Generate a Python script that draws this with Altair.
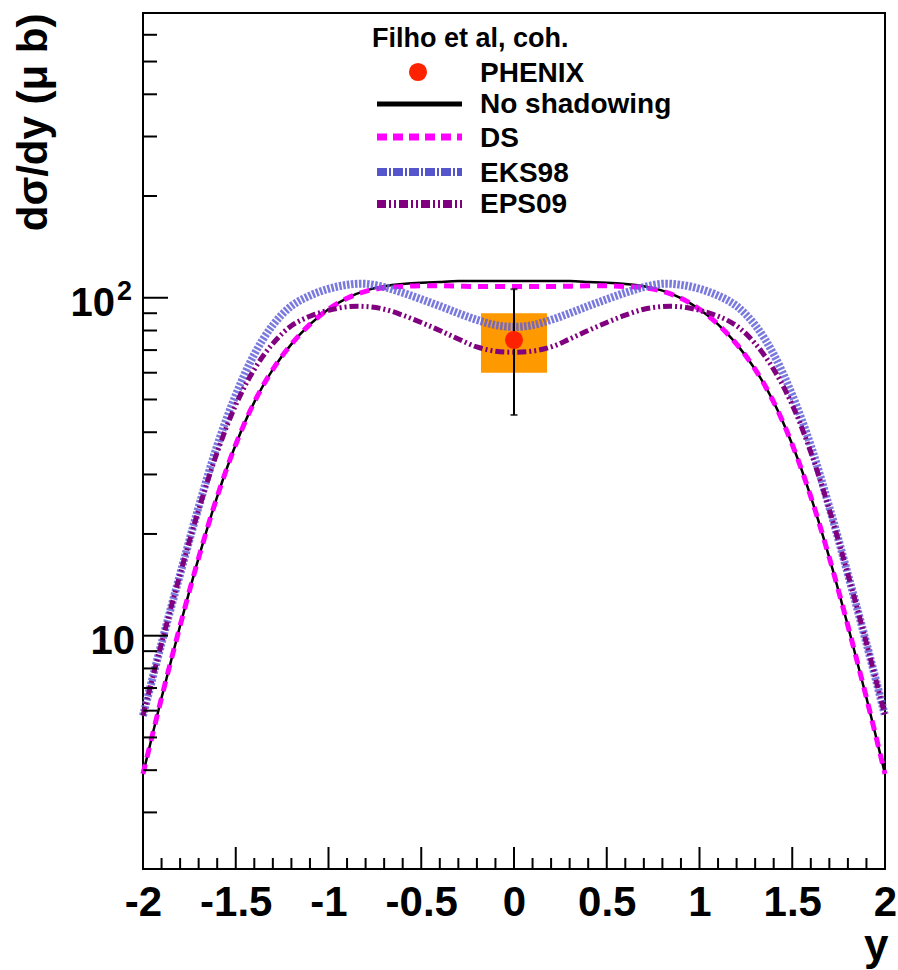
import altair as alt
import pandas as pd

# ---------------- data ----------------
x_vals = [-2.0, -1.9, -1.8, -1.7, -1.6, -1.5, -1.4, -1.3, -1.2, -1.1, -1.0,
          -0.9, -0.8, -0.7, -0.6, -0.5, -0.4, -0.3, -0.2, -0.1, 0.0,
          0.1, 0.2, 0.3, 0.4, 0.5, 0.6, 0.7, 0.8, 0.9, 1.0,
          1.1, 1.2, 1.3, 1.4, 1.5, 1.6, 1.7, 1.8, 1.9, 2.0]

no_shadowing = [3.9, 6.55, 10.7, 17.0, 25.8, 36.8, 49.1, 61.4, 72.9, 83.4, 92.5,
                99.8, 105.0, 108.2, 109.9, 110.7, 111.4, 112.0, 112.0, 112.0, 112.0,
                112.0, 112.0, 112.0, 111.4, 110.7, 109.9, 108.2, 105.0, 99.8, 92.5,
                83.4, 72.9, 61.4, 49.1, 36.8, 25.8, 17.0, 10.7, 6.55, 3.9]

ds = [3.9, 6.55, 10.7, 17.0, 25.8, 36.8, 49.1, 61.4, 72.9, 83.4, 92.5,
      99.6, 104.5, 107.0, 108.0, 108.5, 108.5, 108.2, 108.0, 108.0, 108.0,
      108.0, 108.0, 108.2, 108.5, 108.5, 108.0, 107.0, 104.5, 99.6, 92.5,
      83.4, 72.9, 61.4, 49.1, 36.8, 25.8, 17.0, 10.7, 6.55, 3.9]

eks98 = [5.8, 9.5, 15.2, 24.0, 36.5, 51.5, 68.0, 83.0, 94.5, 101.5, 106.3,
         109.2, 110.0, 107.5, 103.5, 99.0, 94.5, 90.0, 86.0, 83.0, 82.0,
         83.0, 86.0, 90.0, 94.5, 99.0, 103.5, 107.5, 110.0, 109.2, 106.3,
         101.5, 94.5, 83.0, 68.0, 51.5, 36.5, 24.0, 15.2, 9.5, 5.8]

eps09 = [5.8, 9.5, 15.2, 23.6, 34.9, 48.2, 61.4, 73.2, 82.6, 88.2, 91.8,
         94.0, 94.2, 92.5, 88.8, 84.5, 80.0, 75.5, 71.5, 69.5, 69.0,
         69.5, 71.5, 75.5, 80.0, 84.5, 88.8, 92.5, 94.2, 94.0, 91.8,
         88.2, 82.6, 73.2, 61.4, 48.2, 34.9, 23.6, 15.2, 9.5, 5.8]

phenix_x = [0.0]
phenix_y = [75.0]
phenix_stat_lo = [45.0]
phenix_stat_hi = [106.0]
phenix_sys_x_lo = [-0.178]
phenix_sys_x_hi = [0.178]
phenix_sys_lo = [60.0]
phenix_sys_hi = [90.0]

x_major = [-2.0, -1.5, -1.0, -0.5, 0.0, 0.5, 1.0, 1.5, 2.0]
x_minor = [-1.9, -1.8, -1.7, -1.6, -1.4, -1.3, -1.2, -1.1, -0.9, -0.8, -0.7, -0.6,
           -0.4, -0.3, -0.2, -0.1, 0.1, 0.2, 0.3, 0.4, 0.6, 0.7, 0.8, 0.9,
           1.1, 1.2, 1.3, 1.4, 1.6, 1.7, 1.8, 1.9]
y_major = [10, 100]
y_minor = [3, 4, 5, 6, 7, 8, 9, 20, 30, 40, 50, 60, 70, 80, 90, 200, 300, 400, 500, 600]

legend_title = "Filho et al, coh."
legend_labels = ["PHENIX", "No shadowing", "DS", "EKS98", "EPS09"]

# ---------------- layout ----------------
W, H = 742, 856
FONT = "Liberation Sans"
INTERP = "catmull-rom"

curves = pd.DataFrame({"x": x_vals, "ns": no_shadowing, "ds": ds,
                       "eks": eks98, "eps": eps09})
pt = pd.DataFrame({"x": phenix_x, "y": phenix_y, "lo": phenix_stat_lo,
                   "hi": phenix_stat_hi, "bx0": phenix_sys_x_lo,
                   "bx1": phenix_sys_x_hi, "by0": phenix_sys_lo,
                   "by1": phenix_sys_hi})

xs = alt.Scale(domain=[-2, 2], nice=False, zero=False)
ys = alt.Scale(type="log", domain=[2.04, 696], nice=False)

xaxis = alt.Axis(values=x_major, labelExpr="'' + datum.value", title="y",
                 grid=False, domain=False, ticks=False, tickSize=0,
                 labelFont=FONT, labelFontSize=42, labelFontWeight="bold",
                 labelColor="black", labelPadding=46, labelBaseline="alphabetic",
                 labelFlush=False, labelOverlap=False,
                 titleFont=FONT, titleFontSize=44, titleFontWeight="bold",
                 titleColor="black", titleX=745, titleY=90, titleAlign="right",
                 titleBaseline="alphabetic")

yaxis = alt.Axis(values=y_major, labels=False,
                 title="d\u03c3/dy (\u03bc b)", grid=False, domain=False,
                 ticks=False, tickSize=0,
                 titleFont=FONT, titleFontSize=42, titleFontWeight="bold",
                 titleColor="black", titleAngle=-90, titleX=-97, titleY=0,
                 titleAlign="right", titleBaseline="alphabetic")


def X(f):
    return alt.X(f, type="quantitative", scale=xs, axis=xaxis)


def Y(f):
    return alt.Y(f, type="quantitative", scale=ys, axis=yaxis)


base = alt.Chart(curves)

box = alt.Chart(pt).mark_rect(color="#ff9900").encode(
    x=X("bx0"), x2="bx1", y=Y("by0"), y2="by1")

line_ns = base.mark_line(color="black", strokeWidth=2.5,
                         interpolate=INTERP).encode(x=X("x"), y=Y("ns"))
line_ds = base.mark_line(color="#ff00ff", strokeWidth=5, strokeDash=[10, 7],
                         interpolate=INTERP).encode(x=X("x"), y=Y("ds"))
line_eks = base.mark_line(color="#6262d8", strokeWidth=8, strokeDash=[2.5, 1.5],
                          opacity=0.85, interpolate=INTERP).encode(
    x=X("x"), y=Y("eks"))
line_eps = base.mark_line(color="#800080", strokeWidth=5,
                          strokeDash=[9, 3, 2, 3, 2, 3],
                          interpolate=INTERP).encode(x=X("x"), y=Y("eps"))

err = alt.Chart(pt).mark_rule(color="black", strokeWidth=2).encode(
    x=X("x"), y=Y("lo"), y2="hi")
cap_lo = alt.Chart(pt).mark_tick(color="black", orient="horizontal", size=7,
                                 thickness=2).encode(x=X("x"), y=Y("lo"))
cap_hi = alt.Chart(pt).mark_tick(color="black", orient="horizontal", size=7,
                                 thickness=2).encode(x=X("x"), y=Y("hi"))
dot = alt.Chart(pt).mark_point(filled=True, shape="circle", size=330,
                               color="#ff2200", opacity=1).encode(
    x=X("x"), y=Y("y"))

# inward ticks (ROOT style)
xmaj = alt.Chart(pd.DataFrame({"v": x_major})).mark_rule(
    color="black", strokeWidth=2).encode(x=X("v"), y=alt.value(H), y2=alt.value(H - 22))
xmin = alt.Chart(pd.DataFrame({"v": x_minor})).mark_rule(
    color="black", strokeWidth=2).encode(x=X("v"), y=alt.value(H), y2=alt.value(H - 11))
ymaj = alt.Chart(pd.DataFrame({"v": y_major})).mark_rule(
    color="black", strokeWidth=2).encode(y=Y("v"), x=alt.value(0), x2=alt.value(25))
ymin = alt.Chart(pd.DataFrame({"v": y_minor})).mark_rule(
    color="black", strokeWidth=2).encode(y=Y("v"), x=alt.value(0), x2=alt.value(14))

# y tick labels "10" and "10^2" (superscript as separate text)
def ylab(v, text, px, size, dy, align):
    return alt.Chart(pd.DataFrame({"v": [v], "t": [text]})).mark_text(
        font=FONT, fontSize=size, fontWeight="bold", color="black",
        align=align, baseline="alphabetic", dy=dy).encode(
        y=Y("v"), x=alt.value(px), text="t:N")


ylabels = [ylab(10, "10", -8, 40, 18, "right"),
           ylab(100, "10", -28, 40, 18, "right"),
           ylab(100, "2", -26, 27, 2, "left")]

# custom legend
def txt(s, px, py, size):
    return alt.Chart(pd.DataFrame({"t": [s]})).mark_text(
        font=FONT, fontSize=size, fontWeight="bold", color="black",
        align="left", baseline="alphabetic").encode(
        x=alt.value(px), y=alt.value(py), text="t:N")


def sym(py, color, width, dash=None):
    kw = dict(color=color, strokeWidth=width)
    if dash:
        kw["strokeDash"] = dash
    return alt.Chart(pd.DataFrame({"a": [0]})).mark_rule(**kw).encode(
        x=alt.value(234), x2=alt.value(319), y=alt.value(py))


leg = [txt(legend_title, 229, 34, 27)]
label_y = [69, 100, 134, 169, 200]
for lab, py in zip(legend_labels, label_y):
    leg.append(txt(lab, 337, py, 28))
leg.append(alt.Chart(pd.DataFrame({"a": [0]})).mark_point(
    filled=True, shape="circle", size=330, color="#ff2200", opacity=1).encode(
    x=alt.value(275), y=alt.value(59)))
leg.append(sym(91, "black", 5))
leg.append(sym(124, "#ff00ff", 7, [10, 6]))
leg.append(sym(159, "#5555cc", 8, [10, 2, 2, 2]))
leg.append(sym(191, "#800080", 8, [9, 3, 2, 3, 2, 3]))

chart = alt.layer(
    box, line_ns, line_ds, line_eks, line_eps, err, cap_lo, cap_hi, dot,
    xmaj, xmin, ymaj, ymin, *ylabels, *leg
).properties(
    width=W, height=H,
    padding={"left": 143, "top": 13, "right": 13, "bottom": 101},
    autosize=alt.AutoSizeParams(type="none"),
    background="white",
).configure_view(stroke="black", strokeWidth=2)

chart.save("out.html", embed_options={"renderer": "svg", "actions": False})
